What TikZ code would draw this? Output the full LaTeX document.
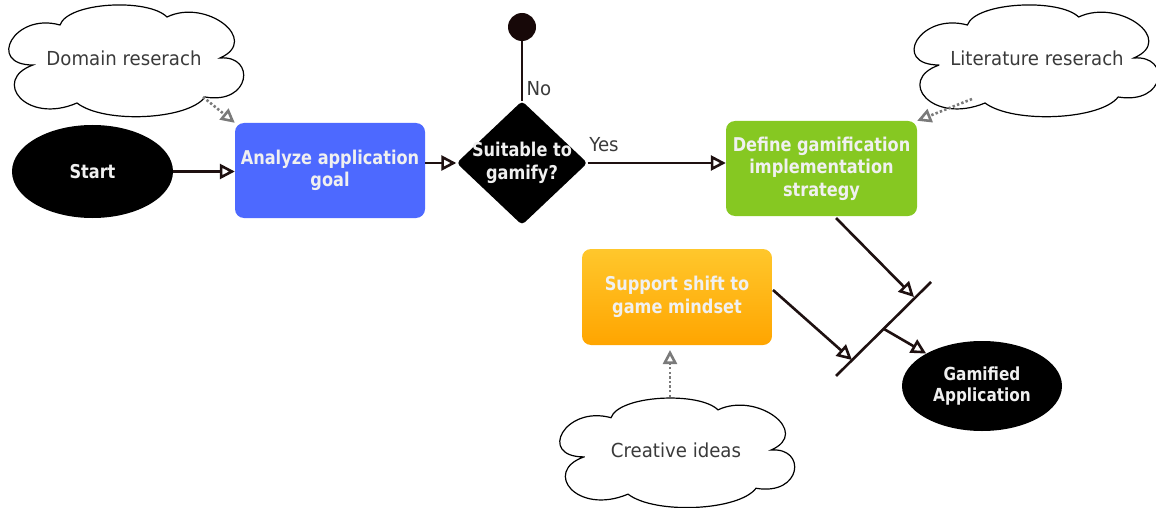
\documentclass[tikz,border=0pt]{standalone}
\usepackage{fontspec}
\setmainfont{DejaVu Sans}[FakeStretch=0.94]
\newfontfamily\boxfont{DejaVu Sans}[FakeStretch=0.85]
\usetikzlibrary{shapes.geometric,arrows.meta,calc}

\definecolor{linkc}{HTML}{1E1010}
\definecolor{blueb}{HTML}{4D69FF}
\definecolor{greenb}{HTML}{86C822}
\definecolor{orangeT}{HTML}{FFC72C}
\definecolor{orangeB}{HTML}{FFA500}
\definecolor{hintc}{HTML}{7A7A7A}
\definecolor{txtc}{HTML}{3A3A3A}
\definecolor{stopc}{HTML}{170808}

\tikzset{
  every node/.style={font=\fontsize{19.3}{22.5}\selectfont},
  task/.style={rounded corners=9pt, align=center, text=white!94!black,
    font=\boxfont\bfseries\fontsize{19}{22.5}\selectfont, inner sep=0pt},
  term/.style={ellipse, fill=black, align=center, text=white!94!black,
    font=\boxfont\bfseries\fontsize{19}{22}\selectfont, inner sep=0pt},
  decision/.style={diamond, fill=black, rounded corners=4pt, inner sep=0pt},
  cloudline/.style={draw=black, line width=1.2pt, fill=white},
  idea/.style={text=txtc},
  flow/.style={draw=linkc, line width=2.6pt, -{Triangle[open,length=15pt,width=15pt]}},
  hint/.style={draw=hintc, line width=2.6pt, dash pattern=on 2.4pt off 2.2pt,
    -{Triangle[open,length=14pt,width=14pt]}},
  lbl/.style={text=txtc},
  % thought cloud outline of six puffs, drawn around its centre
  puff/.pic={
    \path[cloudline] (-93,5)
      .. controls (-140,5) and (-112,-48) .. (-66,-35)
      .. controls (-58,-58) and (22,-62) .. (41,-43)
      .. controls (80,-62) and (135,-20) .. (94,-2)
      .. controls (130,-5) and (125,45) .. (79,37)
      .. controls (62,60) and (-22,64) .. (-49,43)
      .. controls (-100,65) and (-135,20) .. cycle;
  },
}

\begin{document}
\begin{tikzpicture}[x=1pt,y=-1pt]
\useasboundingbox (0,0) rectangle (1156,508);

% idea clouds
\pic at (126,60) {puff};
\node[idea] (dom) at (124,58) {Domain reserach};
\pic[xscale=1.04] at (1036,60) {puff};
\node[idea] (lit) at (1037,58) {Literature reserach};
\pic[yscale=0.98] at (677,452) {puff};
\node[idea] (cre) at (676,450) {Creative ideas};

% terminals
\node[term, minimum width=161pt, minimum height=93pt] (start) at (92.5,171.5) {Start};
\node[term, minimum width=160pt, minimum height=90pt,
      font=\boxfont\bfseries\fontsize{18}{21.5}\selectfont] (goal) at (982,386) {Gamified\\Application};
\node[circle, fill=stopc, minimum size=28pt, inner sep=0pt] (stop) at (522,27) {};

% activities
\node[task, fill=blueb, minimum width=190pt, minimum height=95pt] (analyze) at (330,170.5) {Analyze application\\goal};
\node[task, fill=greenb, minimum width=191pt, minimum height=95pt] (define) at (821.5,168.5) {Define gamification\\implementation\\strategy};
\node[task, top color=orangeT, bottom color=orangeB, minimum width=190pt, minimum height=96pt] (support) at (677,297) {Support shift to\\game mindset};

% decision
\node[decision, minimum width=131pt, minimum height=124pt] (dia) at (522,163) {};
\node[task] (diatext) at (dia.center) {Suitable to\\gamify?};

% join bar and its contact points
\coordinate (barA) at (836,376);
\coordinate (barB) at (931,282);
\coordinate (jin1) at (914,297);
\coordinate (jin2) at (852,360);
\coordinate (jout) at (884,329);
\coordinate (defout) at (836,218);
\coordinate (supout) at (773,290);

% hint sources and targets
\coordinate (domout) at (203,97);
\coordinate (litout) at (972,99);
\coordinate (creout) at (670,397);
\coordinate (crein) at (670,350);

% control flow
\draw[flow] (start.east) -- (start.east -| analyze.west);
\draw[flow] (analyze.east |- dia.west) -- (dia.west);
\draw[draw=linkc, line width=2.6pt] (dia.north) -- (stop);
\node[lbl] (nolbl) at (539,89) {No};
\draw[flow] (dia.east) -- (define.west |- dia.east);
\node[lbl] (yeslbl) at (604,145) {Yes};

\draw[flow] (defout) -- (jin1);
\draw[flow] (supout) -- (jin2);
\draw[draw=linkc, line width=2.6pt] (barA) -- (barB);
\draw[flow] (jout) -- (goal);

% inputs
\draw[hint] (domout) -- (analyze.north west);
\draw[hint] (litout) -- (define.north east);
\draw[hint] (creout) -- (crein);
\end{tikzpicture}
\end{document}
